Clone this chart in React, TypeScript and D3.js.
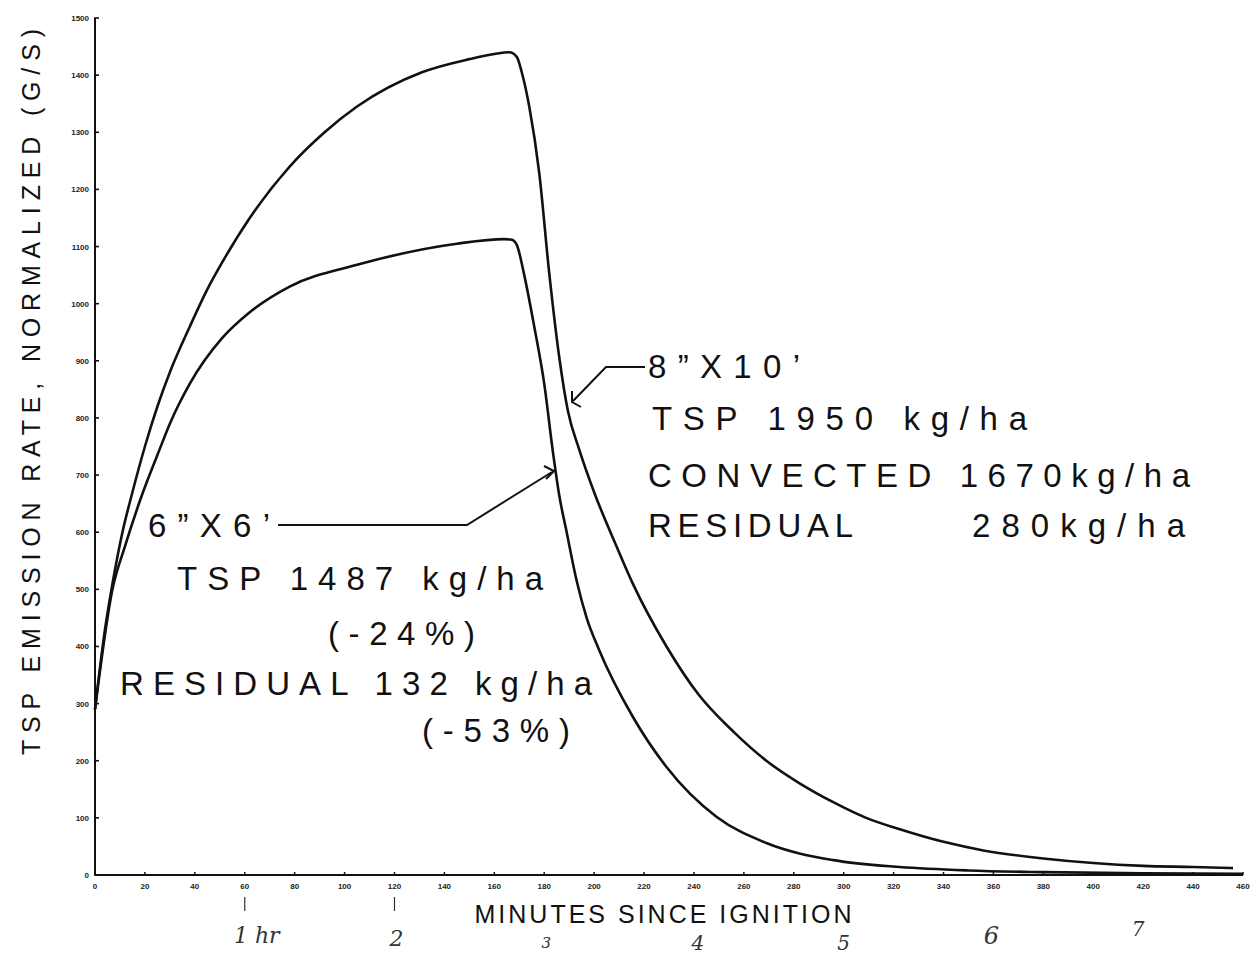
import React from "react";
import * as d3 from "d3";

// ---- data (minutes since ignition, TSP emission rate g/s) ----
const bigMinutes = [0, 4, 7, 11, 15, 20, 25, 30, 38, 45, 52, 62, 78, 92, 105, 131, 150, 160, 166, 169, 171, 174, 178, 182, 186, 189.5, 194, 200, 209, 215.5, 229, 242, 256, 269, 282.5, 296, 309, 322.5, 340, 356, 380, 400, 420, 440, 456];
const bigValues = [290, 430, 510, 600, 670, 750, 820, 880, 960, 1025, 1080, 1150, 1240, 1300, 1345, 1405, 1428, 1437, 1440, 1432, 1405, 1345, 1229, 1054, 907, 812, 745, 670, 575, 510, 400, 315, 250, 200, 160, 127, 100, 80, 58, 43, 29, 21, 16, 14, 12];

const smallMinutes = [0, 7, 12, 18, 25, 30, 38, 51, 62, 78, 105, 145, 164, 167, 169, 172, 176, 180, 183.5, 186, 189, 193, 197, 202, 215.5, 229, 249, 269, 296, 322.5, 350, 380, 420, 460];
const smallValues = [290, 500, 575, 655, 735, 790, 860, 940, 985, 1030, 1068, 1105, 1113, 1112, 1103, 1050, 960, 860, 740, 665, 600, 515, 450, 394, 277, 189, 102, 56, 26, 14, 8, 5, 3, 2];

const xTicks = d3.range(0, 461, 20);
const yTicks = d3.range(0, 1501, 100);
const hourLabels = ["1 hr", "2", "3", "4", "5", "6", "7"];
const hourMinutes = [60, 120, 180, 240, 300, 360, 420];

const W = 1250;
const H = 956;
const FONT = "'Liberation Sans', Arial, sans-serif";

export default function App() {
  const x = d3.scaleLinear().domain([0, 460]).range([95, 1243]);
  const y = d3.scaleLinear().domain([0, 1500]).range([875, 18]);

  const line = d3
    .line<[number, number]>()
    .x((d) => x(d[0]))
    .y((d) => y(d[1]))
    .curve(d3.curveMonotoneX);

  const big = bigMinutes.map((m, i) => [m, bigValues[i]] as [number, number]);
  const small = smallMinutes.map((m, i) => [m, smallValues[i]] as [number, number]);

  const hourOffsets = [12, 2, 2, 4, 0, -2, -5];
  const hourY = [943, 946, 948, 950, 950, 944, 936];
  const hourSize = [22, 22, 15, 20, 20, 24, 20];

  const annText = {
    fontFamily: FONT,
    fontSize: 33,
    fill: "#111",
  } as const;

  return (
    <svg
      width={W}
      height={H}
      viewBox={`0 0 ${W} ${H}`}
      style={{ position: "absolute", left: 0, top: 0, background: "#fff" }}
    >
      <rect x={0} y={0} width={W} height={H} fill="#fff" />

      {/* y axis */}
      <line x1={x(0)} x2={x(0)} y1={y(1500)} y2={y(0)} stroke="#111" strokeWidth={2} />
      {yTicks.map((t) => (
        <g key={"yt" + t}>
          <line x1={x(0) - 1} x2={x(0) + 4} y1={y(t)} y2={y(t)} stroke="#111" strokeWidth={1.6} />
          <text
            x={x(0) - 6}
            y={y(t) + 3}
            textAnchor="end"
            fontFamily={FONT}
            fontSize={8}
            fontWeight="bold"
            fill="#222"
          >
            {t}
          </text>
        </g>
      ))}

      {/* x axis */}
      <line x1={x(0)} x2={x(460)} y1={y(0)} y2={y(0)} stroke="#111" strokeWidth={2} />
      {xTicks.map((t) => (
        <g key={"xt" + t}>
          <line x1={x(t)} x2={x(t)} y1={y(0)} y2={y(0) - 3} stroke="#111" strokeWidth={1.5} />
          <text
            x={x(t)}
            y={y(0) + 14}
            textAnchor="middle"
            fontFamily={FONT}
            fontSize={8}
            fontWeight="bold"
            fill="#222"
          >
            {t}
          </text>
        </g>
      ))}

      {/* axis titles */}
      <text
        transform={`translate(40, ${392}) rotate(-90)`}
        textAnchor="middle"
        fontFamily={FONT}
        fontSize={25}
        fill="#111"
        textLength={726}
        lengthAdjust="spacing"
      >
        TSP EMISSION RATE, NORMALIZED (G/S)
      </text>
      <text
        x={663}
        y={923}
        textAnchor="middle"
        fontFamily={FONT}
        fontSize={25}
        fill="#111"
        textLength={377}
        lengthAdjust="spacing"
      >
        MINUTES SINCE IGNITION
      </text>

      {/* hour marks (handwritten) */}
      {[60, 120].map((m) => (
        <line key={"hm" + m} x1={x(m)} x2={x(m)} y1={897} y2={911} stroke="#333" strokeWidth={1.2} />
      ))}
      {hourLabels.map((h, i) => (
        <text
          key={"h" + h}
          x={x(hourMinutes[i]) + hourOffsets[i]}
          y={hourY[i]}
          textAnchor="middle"
          fontFamily="'DejaVu Serif', serif"
          fontStyle="italic"
          fontWeight={300}
          fontSize={hourSize[i]}
          fill="#333"
        >
          {h}
        </text>
      ))}

      {/* curves */}
      <path d={line(big) || ""} fill="none" stroke="#111" strokeWidth={2.6} strokeLinejoin="round" />
      <path d={line(small) || ""} fill="none" stroke="#111" strokeWidth={2.6} strokeLinejoin="round" />

      {/* 8"x10' annotation */}
      <polyline points="645,367 606,367 573,401" fill="none" stroke="#111" strokeWidth={2} />
      <polyline points="572,391 572,402 581,407" fill="none" stroke="#111" strokeWidth={2} />
      <text {...annText} x={648} y={378} textLength={152} lengthAdjust="spacing">8”X10’</text>
      <text {...annText} x={652} y={430} textLength={375} lengthAdjust="spacing">TSP  1950 kg/ha</text>
      <text {...annText} x={648} y={487} textLength={542} lengthAdjust="spacing">CONVECTED  1670kg/ha</text>
      <text {...annText} x={648} y={537} textLength={205} lengthAdjust="spacing">RESIDUAL</text>
      <text {...annText} x={972} y={537} textLength={213} lengthAdjust="spacing">280kg/ha</text>

      {/* 6"x6' annotation */}
      <polyline points="278,525 467,525 552,472" fill="none" stroke="#111" strokeWidth={2} />
      <polyline points="544,466 554,471 546,479" fill="none" stroke="#111" strokeWidth={2} />
      <text {...annText} x={148} y={537} textLength={122} lengthAdjust="spacing">6”X6’</text>
      <text {...annText} x={177} y={590} textLength={366} lengthAdjust="spacing">TSP 1487 kg/ha</text>
      <text {...annText} x={328} y={645} textLength={147} lengthAdjust="spacing">(-24%)</text>
      <text {...annText} x={120} y={695} textLength={472} lengthAdjust="spacing">RESIDUAL 132 kg/ha</text>
      <text {...annText} x={422} y={742} textLength={148} lengthAdjust="spacing">(-53%)</text>
    </svg>
  );
}
